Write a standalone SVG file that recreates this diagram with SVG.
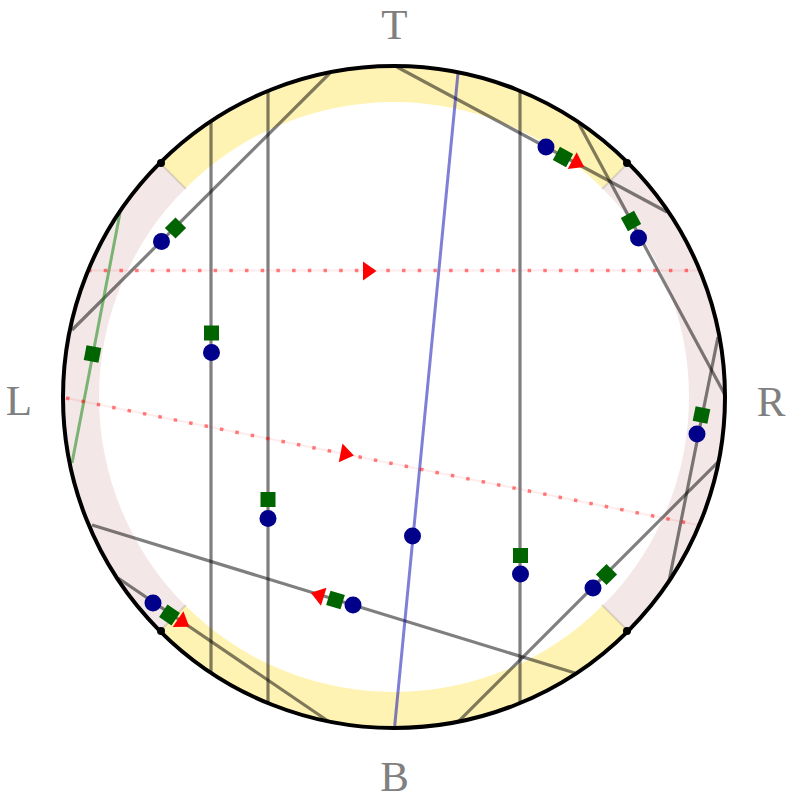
<svg xmlns="http://www.w3.org/2000/svg" width="793" height="800" viewBox="0 0 793 800">
<style>
.gl{stroke:#000;stroke-opacity:0.5;stroke-width:3.2;fill:none;stroke-linecap:butt}
.rd{stroke:#ff0000;stroke-opacity:0.5;stroke-width:3.5;stroke-dasharray:3.5 12.2;fill:none}
.rf{stroke:#ff0000;stroke-opacity:0.08;stroke-width:2;fill:none}
.bd{fill:#00008b}
.sq{fill:#006400}
.tr{fill:#ff0000}
.sep{stroke:#000;stroke-opacity:0.13;stroke-width:2}
.lbl{font-family:"Liberation Serif","DejaVu Serif",serif;font-size:43px;fill:#808080;text-anchor:middle}
</style>
<defs>
<rect id="s" x="-7.5" y="-7.5" width="15" height="15" class="sq"/>
<path id="t" d="M7.5,0 L-6,-9.5 L-6,9.5 Z" class="tr"/>
</defs>
<g id="bands">
<path fill="#fff3b3" d="M159.95,162.95 A331,331 0 0 1 628.05,162.95 L602.6,188.4 A295,295 0 0 0 185.4,188.4 Z"/>
<path fill="#f4e7e8" d="M628.05,162.95 A331,331 0 0 1 628.05,631.05 L602.6,605.6 A295,295 0 0 0 602.6,188.4 Z"/>
<path fill="#fff3b3" d="M628.05,631.05 A331,331 0 0 1 159.95,631.05 L185.4,605.6 A295,295 0 0 0 602.6,605.6 Z"/>
<path fill="#f4e7e8" d="M159.95,631.05 A331,331 0 0 1 159.95,162.95 L185.4,188.4 A295,295 0 0 0 185.4,605.6 Z"/>
<line class="sep" x1="161" y1="164" x2="186" y2="189"/>
<line class="sep" x1="627" y1="164" x2="602" y2="189"/>
<line class="sep" x1="161" y1="630" x2="186" y2="605"/>
<line class="sep" x1="627" y1="630" x2="602" y2="605"/>
</g>
<g id="connectors">
<line class="gl" x1="211" y1="121" x2="211" y2="673"/>
<line class="gl" x1="268" y1="91" x2="268" y2="703"/>
<line class="gl" x1="520" y1="91" x2="520" y2="703"/>
<line class="gl" x1="72" y1="330" x2="330" y2="73"/>
<line class="gl" x1="397" y1="67" x2="667" y2="212"/>
<line class="gl" x1="579" y1="124" x2="725" y2="395"/>
<line class="gl" x1="718" y1="337" x2="669" y2="581"/>
<line class="gl" x1="718.7" y1="461.3" x2="458.3" y2="721.7"/>
<line class="gl" x1="92" y1="525" x2="575" y2="673"/>
<line class="gl" x1="118" y1="578" x2="328" y2="721"/>
<line x1="120" y1="213" x2="72" y2="463" stroke="#008000" stroke-opacity="0.5" stroke-width="3"/>
<line x1="458" y1="73" x2="394.5" y2="728" stroke="#0000b0" stroke-opacity="0.5" stroke-width="3"/>
<line class="rf" x1="88" y1="270.5" x2="700" y2="270.5"/>
<line class="rd" x1="88" y1="270.5" x2="700" y2="270.5"/>
<line class="rf" x1="66" y1="398" x2="698" y2="525"/>
<line class="rd" x1="66" y1="398" x2="698" y2="525"/>
</g>
<g id="circle">
<circle cx="394" cy="397" r="331" fill="none" stroke="#000" stroke-width="4"/>
<circle cx="161" cy="163" r="4" fill="#000"/>
<circle cx="627" cy="163" r="4" fill="#000"/>
<circle cx="161" cy="631" r="4" fill="#000"/>
<circle cx="627" cy="631" r="4" fill="#000"/>
</g>
<g id="node-v1"><use href="#s" transform="translate(211.5,333)"/><circle class="bd" cx="211.5" cy="352.5" r="8.5"/></g>
<g id="node-v2"><use href="#s" transform="translate(268,499.5)"/><circle class="bd" cx="268" cy="518.5" r="8.5"/></g>
<g id="node-v3"><use href="#s" transform="translate(520.5,555.5)"/><circle class="bd" cx="520.5" cy="574" r="8.5"/></g>
<g id="node-d1"><use href="#s" transform="translate(175.5,228) rotate(-45)"/><circle class="bd" cx="161.5" cy="241.5" r="8.5"/></g>
<g id="node-d2"><circle class="bd" cx="546" cy="147" r="8.5"/><use href="#s" transform="translate(563,157) rotate(28.2)"/><use href="#t" transform="translate(577.5,163.5) rotate(28.2)"/></g>
<g id="node-d3"><use href="#s" transform="translate(631,221) rotate(61.7)"/><circle class="bd" cx="638.5" cy="238" r="8.5"/></g>
<g id="node-d4"><use href="#s" transform="translate(701.5,415) rotate(11.4)"/><circle class="bd" cx="697" cy="434" r="8.5"/></g>
<g id="node-d5"><use href="#s" transform="translate(606.5,574.5) rotate(-45)"/><circle class="bd" cx="593" cy="588" r="8.5"/></g>
<g id="node-d6"><use href="#t" transform="translate(318,595) rotate(197)"/><use href="#s" transform="translate(335.5,600) rotate(17)"/><circle class="bd" cx="353" cy="605" r="8.5"/></g>
<g id="node-d7"><circle class="bd" cx="153" cy="603" r="8.5"/><use href="#s" transform="translate(169.5,615) rotate(34.3)"/><use href="#t" transform="translate(183,622.5) rotate(34.3)"/></g>
<g id="node-g1"><use href="#s" transform="translate(92.5,354) rotate(10.9)"/></g>
<g id="node-b1"><circle class="bd" cx="412.5" cy="536" r="8.5"/></g>
<g id="node-r1"><use href="#t" transform="translate(369,271)"/></g>
<g id="node-r2"><use href="#t" transform="translate(346.5,454) rotate(11.3)"/></g>
<g id="labels">
<text class="lbl" x="394.5" y="39">T</text>
<text class="lbl" x="394.5" y="790.5">B</text>
<text class="lbl" x="19" y="415">L</text>
<text class="lbl" x="771" y="416">R</text>
</g>
</svg>
